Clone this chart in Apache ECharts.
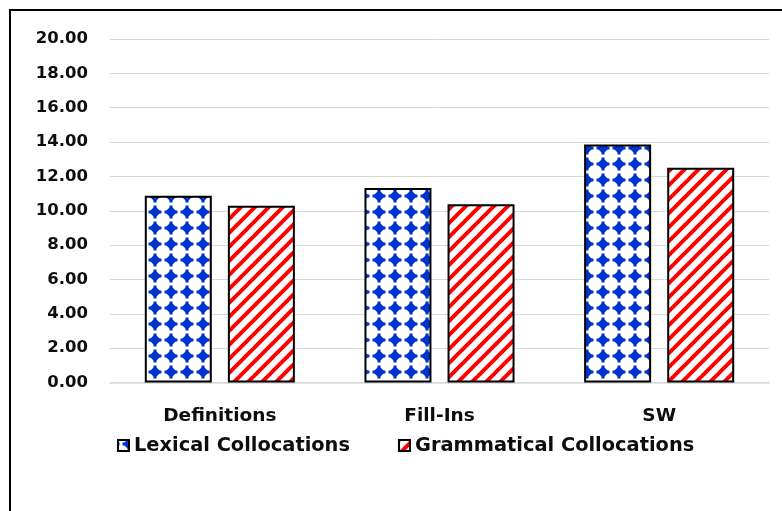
<!DOCTYPE html>
<html>
<head>
    <meta charset="utf-8">
    <title>Collocations</title>
    <script src="https://cdn.jsdelivr.net/npm/echarts@6/dist/echarts.min.js"></script>
</head>
<body style="margin:0;background:#fff">
<div id="main" style="width:782px;height:511px;"></div>
<script type="text/javascript">
    // data
    var categories = ['Definitions', 'Fill-Ins', 'SW'];
    var lexical = [10.87, 11.32, 13.86];
    var grammatical = [10.29, 10.38, 12.50];
    var seriesNames = ['Lexical Collocations', 'Grammatical Collocations'];

    var FONT = 'DejaVu Sans';

    // blue diamond dots pattern
    function dotPattern() {
        var c = document.createElement('canvas');
        c.width = 16; c.height = 16;
        var ctx = c.getContext('2d');
        ctx.fillStyle = '#fff';
        ctx.fillRect(0, 0, 16, 16);
        ctx.fillStyle = '#0033cc';
        var cx = 11, cy = 4;
        // draw in 4 wrapped copies so the shape tiles cleanly
        [[0, 0], [-16, 0], [0, 16], [-16, 16]].forEach(function (o) {
            var x = cx + o[0], y = cy + o[1];
            ctx.beginPath();
            ctx.moveTo(x, y - 6); ctx.lineTo(x + 6, y); ctx.lineTo(x, y + 6); ctx.lineTo(x - 6, y);
            ctx.closePath();
            ctx.fill();
            ctx.fillRect(x - 1.5, y - 6.5, 3, 13);
            ctx.fillRect(x - 6.5, y - 1.5, 13, 3);
        });
        return c;
    }

    // red diagonal stripes pattern
    function stripePattern() {
        var s = 14;
        var c = document.createElement('canvas');
        c.width = s; c.height = s;
        var ctx = c.getContext('2d');
        ctx.fillStyle = '#fff';
        ctx.fillRect(0, 0, s, s);
        ctx.strokeStyle = '#ff0000';
        ctx.lineWidth = 4;
        for (var k = -1; k <= 1; k++) {
            ctx.beginPath();
            ctx.moveTo(k * s - 2, s + 2);
            ctx.lineTo(k * s + s + 2, -2);
            ctx.stroke();
        }
        return c;
    }

    var myChart = echarts.init(document.getElementById('main'));

    myChart.setOption({
        animation: false,
        backgroundColor: '#fff',
        graphic: [{
            type: 'rect',
            shape: {x: 10, y: 10, width: 800, height: 540},
            style: {fill: 'none', stroke: '#000', lineWidth: 2},
            silent: true
        }],
        grid: {left: 110, right: 13, top: 39, bottom: 128.5},
        legend: {
            data: seriesNames,
            top: 436,
            left: 117,
            padding: 0,
            itemWidth: 11,
            itemHeight: 11,
            itemGap: 48,
            icon: 'rect',
            textStyle: {fontFamily: FONT, fontWeight: 'bold', fontSize: 19.4, color: '#0d0d0d'}
        },
        xAxis: {
            type: 'category',
            data: categories,
            axisTick: {show: false},
            axisLine: {lineStyle: {color: '#d9d9d9', width: 1.5}},
            axisLabel: {
                margin: 24,
                fontFamily: FONT, fontWeight: 'bold', fontSize: 18.5, color: '#0d0d0d'
            }
        },
        yAxis: {
            type: 'value',
            min: 0,
            max: 20,
            interval: 2,
            axisLine: {show: false},
            axisTick: {show: false},
            splitLine: {lineStyle: {color: '#d9d9d9', width: 1}},
            axisLabel: {
                margin: 22,
                formatter: function (v) { return v.toFixed(2); },
                fontFamily: FONT, fontWeight: 'bold', fontSize: 16.5, color: '#0d0d0d'
            }
        },
        series: [
            {
                name: seriesNames[0],
                type: 'bar',
                data: lexical,
                barWidth: 67,
                barGap: '24%',
                itemStyle: {
                    color: {image: dotPattern(), repeat: 'repeat'},
                    borderColor: '#000',
                    borderWidth: 2
                }
            },
            {
                name: seriesNames[1],
                type: 'bar',
                data: grammatical,
                barWidth: 67,
                barGap: '24%',
                itemStyle: {
                    color: {image: stripePattern(), repeat: 'repeat'},
                    borderColor: '#000',
                    borderWidth: 2
                }
            }
        ]
    });
</script>
</body>
</html>
